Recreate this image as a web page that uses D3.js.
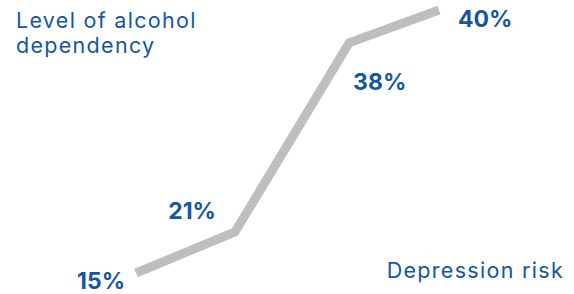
<!DOCTYPE html>
<html><head><meta charset="utf-8">
<script src="https://cdn.jsdelivr.net/npm/d3@7"></script>
<style>html,body{margin:0;padding:0;background:#fff;}</style>
</head><body>
<script>
// Data
const riskLabels = ["15%", "21%", "38%", "40%"];
const riskValues = [15, 21, 38, 40];
// Read positions along the (unlabelled) axes, relative units
const depressionPos = [0, 0.98, 2.11, 3];      // horizontal position (0..3)
const dependencyLevel = [0, 15.6, 87.5, 100];  // vertical position (0..100)
const yTitle = ["Level of alcohol", "dependency"];
const xTitle = "Depression risk";

const W = 574, H = 294;
const blue = "#1457a0", gray = "#bebebe";
const font = "Inter, 'Open Sans', sans-serif";

const svg = d3.select("body").append("svg").attr("width", W).attr("height", H);

const x = d3.scaleLinear().domain([0, 3]).range([136, 439]);
const y = d3.scaleLinear().domain([0, 100]).range([273, 10]);

const pts = riskValues.map((v, i) => ({v, label: riskLabels[i], x: depressionPos[i], y: dependencyLevel[i]}));

svg.append("path")
  .datum(pts)
  .attr("d", d3.line().x(d => x(d.x)).y(d => y(d.y)))
  .attr("fill", "none")
  .attr("stroke", gray)
  .attr("stroke-width", 9)
  .attr("stroke-linejoin", "miter");

// label placement (layout)
const labelLayout = [
  {dx: -11, dy: 16, anchor: "end"},
  {dx: -19, dy: -13, anchor: "end"},
  {dx: 4, dy: 47, anchor: "start"},
  {dx: 19, dy: 17, anchor: "start"}
];

svg.selectAll("text.val").data(pts).join("text")
  .attr("class", "val")
  .attr("x", (d, i) => x(d.x) + labelLayout[i].dx)
  .attr("y", (d, i) => y(d.y) + labelLayout[i].dy)
  .attr("text-anchor", (d, i) => labelLayout[i].anchor)
  .attr("font-family", font)
  .attr("font-weight", 700)
  .attr("font-size", 23)
  .attr("fill", blue)
  .text(d => d.label);

svg.append("text")
  .attr("font-family", font)
  .attr("font-size", 21.5)
  .attr("letter-spacing", 1.3)
  .attr("fill", blue)
  .selectAll("tspan").data(yTitle).join("tspan")
  .attr("x", 16)
  .attr("y", (d, i) => 28 + i * 25)
  .text(d => d);

svg.append("text")
  .attr("x", 564).attr("y", 278)
  .attr("text-anchor", "end")
  .attr("font-family", font)
  .attr("font-size", 21.5)
  .attr("letter-spacing", 1.3)
  .attr("fill", blue)
  .text(xTitle);
</script>
</body></html>
